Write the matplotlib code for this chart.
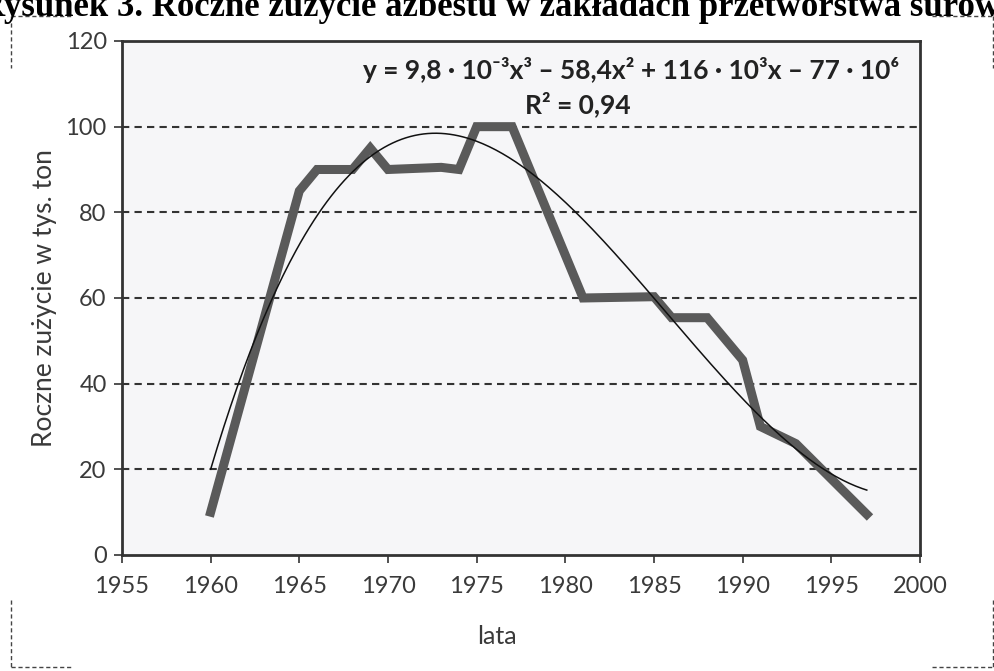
import matplotlib.pyplot as plt
import numpy as np
from matplotlib.lines import Line2D

# data (corner points of the thick line)
years = [1960, 1965, 1966, 1968, 1969, 1970, 1973, 1974, 1975, 1977,
         1981, 1985, 1986, 1988, 1990, 1991, 1993, 1997]
values = [10, 85, 90, 90, 95, 90, 90.5, 90, 100, 100,
          60, 60.3, 55.4, 55.4, 45.5, 30, 26, 9.5]

title = "Rysunek 3. Roczne zużycie azbestu w zakładach przetwórstwa surowców"
equation = "y = 9,8 · 10\u207b\u00b3x\u00b3 \u2013 58,4x\u00b2 + 116 · 10\u00b3x \u2013 77 · 10\u2076"
r2_text = "R\u00b2 = 0,94"
xticks = [1955, 1960, 1965, 1970, 1975, 1980, 1985, 1990, 1995, 2000]
yticks = [0, 20, 40, 60, 80, 100, 120]

sans = ['Lato', 'DejaVu Sans']

fig = plt.figure(figsize=(9.95, 6.71), dpi=100)
ax = fig.add_axes([0.1226, 0.1729, 0.8020, 0.7660])
ax.set_facecolor('#f6f6f8')

# cubic trend line fitted on the series
yr = np.array(years, dtype=float)
coef = np.polyfit(yr - 1978, values, 3)
xs = np.linspace(1960, 1997, 300)
ax.plot(years, values, color='#5a5a5a', lw=6.5, solid_joinstyle='miter', zorder=3)
ax.plot(xs, np.polyval(coef, xs - 1978), color='#111111', lw=1.1, zorder=4)

for v in yticks[1:-1]:
    ax.axhline(v, color='#333333', lw=1.5, ls=(0, (3.5, 2.5)), zorder=1)

ax.set_xlim(1955, 2000)
ax.set_ylim(0, 120)
ax.set_xticks(xticks)
ax.set_yticks(yticks)
ax.set_xticklabels([str(t) for t in xticks], family=sans, fontsize=17, color='#3a3a3a')
ax.set_yticklabels([str(t) for t in yticks], family=sans, fontsize=17, color='#3a3a3a')
ax.tick_params(axis='both', direction='out', length=6, width=1.2, color='#333333', pad=5)
ax.tick_params(axis='x', pad=9)
for s in ax.spines.values():
    s.set_linewidth(2)
    s.set_color('#333333')

ax.set_ylabel("Roczne zużycie w tys. ton", family=sans, fontsize=19, color='#3a3a3a')
ax.set_xlabel("lata", family=sans, fontsize=18, color='#3a3a3a')
ax.yaxis.set_label_coords((57 - 122) / 798, 0.5)
ax.xaxis.set_label_coords((497 - 122) / 798, -(625 - 555) / 514)

fig.text(0.634, 0.896, equation, ha='center', va='center',
         family=sans, fontsize=19, fontweight='bold', color='#222222')
fig.text(0.581, 0.845, r2_text, ha='center', va='center',
         family=sans, fontsize=19, fontweight='bold', color='#222222')

fig.text(-0.02, 1 - 16 / 671, title, ha='left', va='baseline', family='Liberation Serif',
         fontweight='bold', fontsize=25, color='black')

# dashed frame corners
W, H = 995.0, 671.0
dash = dict(color='#444444', lw=1.0, ls=(0, (3, 2)), transform=fig.transFigure)
segs = [
    ((11, 72), (16, 16)), ((11, 11), (16, 68)),
    ((932, 993), (16, 16)), ((993, 993), (16, 68)),
    ((11, 72), (667, 667)), ((11, 11), (600, 667)),
    ((932, 993), (667, 667)), ((993, 993), (600, 667)),
]
for xx, yy in segs:
    fig.add_artist(Line2D([x / W for x in xx], [1 - y / H for y in yy], **dash))

fig.savefig('out.png', dpi=100)
